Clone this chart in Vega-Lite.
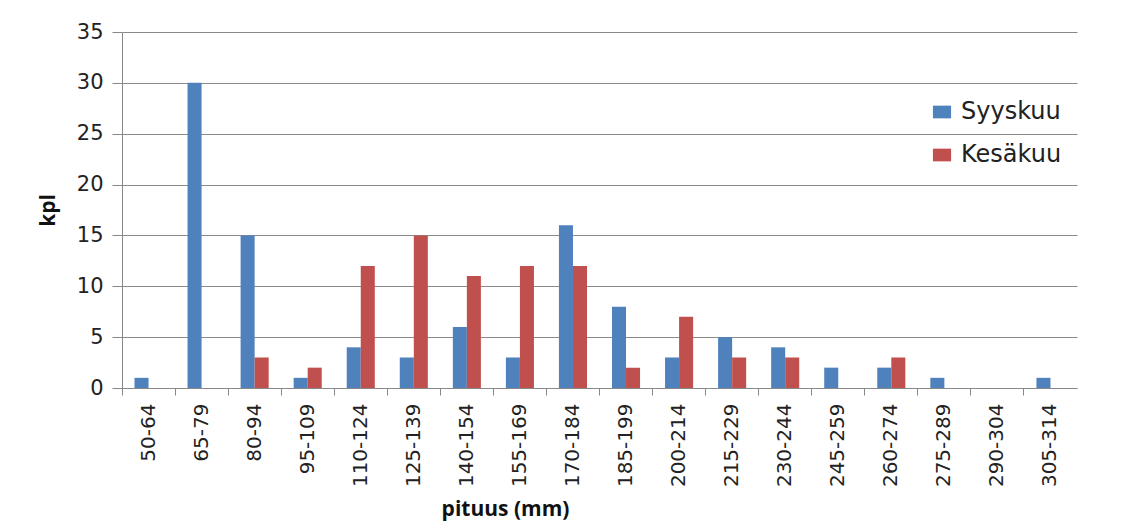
{
  "$schema": "https://vega.github.io/schema/vega-lite/v6.json",
  "width": 955,
  "height": 356,
  "autosize": {"type": "none"},
  "padding": {"left": 122, "top": 32, "right": 50, "bottom": 140},
  "background": "white",
  "config": {
    "view": {"stroke": null},
    "axis": {"labelFont": "DejaVu Sans", "titleFont": "Open Sans", "labelColor": "#222", "titleColor": "#111", "domainColor": "#888", "tickColor": "#888", "gridColor": "#8a8a8a"}
  },
  "data": {
    "values": [
      {"pituus": "50-64", "kk": "Syyskuu", "kpl": 1}, {"pituus": "50-64", "kk": "Kesäkuu", "kpl": 0},
      {"pituus": "65-79", "kk": "Syyskuu", "kpl": 30}, {"pituus": "65-79", "kk": "Kesäkuu", "kpl": 0},
      {"pituus": "80-94", "kk": "Syyskuu", "kpl": 15}, {"pituus": "80-94", "kk": "Kesäkuu", "kpl": 3},
      {"pituus": "95-109", "kk": "Syyskuu", "kpl": 1}, {"pituus": "95-109", "kk": "Kesäkuu", "kpl": 2},
      {"pituus": "110-124", "kk": "Syyskuu", "kpl": 4}, {"pituus": "110-124", "kk": "Kesäkuu", "kpl": 12},
      {"pituus": "125-139", "kk": "Syyskuu", "kpl": 3}, {"pituus": "125-139", "kk": "Kesäkuu", "kpl": 15},
      {"pituus": "140-154", "kk": "Syyskuu", "kpl": 6}, {"pituus": "140-154", "kk": "Kesäkuu", "kpl": 11},
      {"pituus": "155-169", "kk": "Syyskuu", "kpl": 3}, {"pituus": "155-169", "kk": "Kesäkuu", "kpl": 12},
      {"pituus": "170-184", "kk": "Syyskuu", "kpl": 16}, {"pituus": "170-184", "kk": "Kesäkuu", "kpl": 12},
      {"pituus": "185-199", "kk": "Syyskuu", "kpl": 8}, {"pituus": "185-199", "kk": "Kesäkuu", "kpl": 2},
      {"pituus": "200-214", "kk": "Syyskuu", "kpl": 3}, {"pituus": "200-214", "kk": "Kesäkuu", "kpl": 7},
      {"pituus": "215-229", "kk": "Syyskuu", "kpl": 5}, {"pituus": "215-229", "kk": "Kesäkuu", "kpl": 3},
      {"pituus": "230-244", "kk": "Syyskuu", "kpl": 4}, {"pituus": "230-244", "kk": "Kesäkuu", "kpl": 3},
      {"pituus": "245-259", "kk": "Syyskuu", "kpl": 2}, {"pituus": "245-259", "kk": "Kesäkuu", "kpl": 0},
      {"pituus": "260-274", "kk": "Syyskuu", "kpl": 2}, {"pituus": "260-274", "kk": "Kesäkuu", "kpl": 3},
      {"pituus": "275-289", "kk": "Syyskuu", "kpl": 1}, {"pituus": "275-289", "kk": "Kesäkuu", "kpl": 0},
      {"pituus": "290-304", "kk": "Syyskuu", "kpl": 0}, {"pituus": "290-304", "kk": "Kesäkuu", "kpl": 0},
      {"pituus": "305-314", "kk": "Syyskuu", "kpl": 1}, {"pituus": "305-314", "kk": "Kesäkuu", "kpl": 0}
    ]
  },
  "mark": {"type": "bar"},
  "encoding": {
    "x": {
      "field": "pituus", "type": "nominal", "sort": null,
      "scale": {"paddingInner": 0, "paddingOuter": 0},
      "axis": {
        "title": "pituus (mm)", "titleFontSize": 21, "titleFontWeight": "bold",
        "titleX": 383, "titleY": 127, "titleBaseline": "alphabetic",
        "labelAngle": -90, "labelFontSize": 20, "labelPadding": 8,
        "bandPosition": 0, "tickSize": 7,
        "grid": false
      }
    },
    "xOffset": {"field": "kk", "type": "nominal", "sort": ["Syyskuu", "Kesäkuu"], "scale": {"paddingInner": 0, "paddingOuter": 0.89}},
    "y": {
      "field": "kpl", "type": "quantitative",
      "scale": {"domain": [0, 35], "nice": false},
      "axis": {
        "title": "kpl", "titleFontSize": 21, "titleFontWeight": "bold", "titlePadding": 18,
        "values": [0, 5, 10, 15, 20, 25, 30, 35],
        "labelFontSize": 21, "tickSize": 10, "labelPadding": 9,
        "grid": true, "gridWidth": 1
      }
    },
    "color": {
      "field": "kk", "type": "nominal",
      "sort": ["Syyskuu", "Kesäkuu"],
      "scale": {"domain": ["Syyskuu", "Kesäkuu"], "range": ["#4F81BD", "#C0504D"]},
      "legend": {
        "title": null, "orient": "none", "legendX": 808, "legendY": 68,
        "symbolType": "M-1,-0.7H1V0.7H-1Z", "symbolSize": 330, "symbolStrokeWidth": 0,
        "labelFont": "DejaVu Sans", "labelFontSize": 24, "labelColor": "#222",
        "rowPadding": 19, "labelOffset": 7
      }
    }
  }
}
